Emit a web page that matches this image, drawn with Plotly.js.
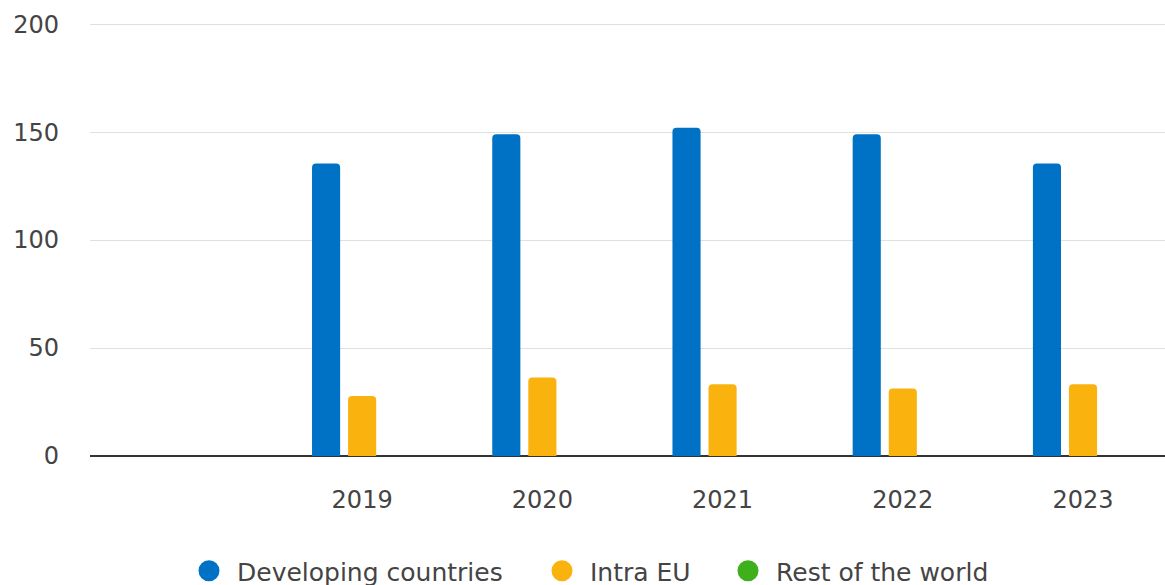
<!DOCTYPE html>
<html>
<head>
<meta charset="utf-8">
<script src="https://cdn.plot.ly/plotly-3.0.1.min.js"></script>
<style>html,body{margin:0;padding:0;background:#fff;}#chart{width:1165px;height:585px;}</style>
</head>
<body>
<div id="chart"></div>
<script>
// ---- data ----
const years = ["2019", "2020", "2021", "2022", "2023"];
const seriesNames = ["Developing countries", "Intra EU", "Rest of the world"];
const developing = [135.5, 149, 152, 149, 135.5];
const intraEU = [27.8, 36.3, 33.2, 31.3, 33.2];
const restOfWorld = [null, null, null, null, null];
const yTicks = [0, 50, 100, 150, 200];

// ---- styles ----
const colors = ["#0072C6", "#FAB20F", "#3DB01C"];
const fontFamily = "DejaVu Sans, Verdana, sans-serif";
const textColor = "#444444";
const W = 1165, H = 585;
const legendStarts = [181, 534, 720];

const seriesValues = [developing, intraEU, restOfWorld];
const traces = [];
seriesValues.forEach((vals, i) => {
  traces.push({
    type: "bar",
    name: seriesNames[i],
    x: years,
    y: vals,
    marker: {color: colors[i], cornerradius: 4},
    showlegend: false,
    hoverinfo: "x+y+name"
  });
});
// legend entries (circles)
seriesNames.forEach((n, i) => {
  traces.push({
    type: "scatter",
    mode: "markers",
    name: n,
    x: [null],
    y: [null],
    marker: {color: colors[i], size: 16, symbol: "circle", line: {color: colors[i], width: 5}},
    showlegend: true,
    legend: i === 0 ? "legend" : "legend" + (i + 1),
    hoverinfo: "skip"
  });
});

function legendCfg(i) {
  return {
    orientation: "h",
    xref: "container", yref: "container",
    x: legendStarts[i] / W, xanchor: "left",
    y: 1 - 571 / H, yanchor: "middle",
    itemwidth: 46,
    font: {family: fontFamily, size: 25, color: textColor},
    bgcolor: "rgba(0,0,0,0)",
    borderwidth: 0,
    itemclick: false, itemdoubleclick: false
  };
}

const layout = {
  width: W, height: H,
  margin: {l: 90, r: 0, t: 22, b: 129, pad: 0},
  paper_bgcolor: "#ffffff",
  plot_bgcolor: "#ffffff",
  font: {family: fontFamily, size: 24, color: textColor},
  barmode: "group",
  bargap: 0.4,
  bargroupgap: 0.22,
  xaxis: {
    type: "category",
    categoryorder: "array",
    categoryarray: years,
    range: [-1.51, 4.455],
    showgrid: false,
    zeroline: false,
    showline: false,
    ticks: "",
    ticklabelstandoff: 27,
    tickfont: {family: fontFamily, size: 24, color: textColor},
    fixedrange: true
  },
  yaxis: {
    range: [0, 201],
    tickvals: yTicks,
    ticktext: yTicks.map(String),
    showgrid: true,
    gridcolor: "#e0e0e0",
    gridwidth: 1,
    zeroline: true,
    zerolinecolor: "#333333",
    zerolinewidth: 1.5,
    showline: false,
    ticks: "",
    ticklabelstandoff: 30,
    tickfont: {family: fontFamily, size: 24, color: textColor},
    fixedrange: true
  },
  legend: legendCfg(0),
  legend2: legendCfg(1),
  legend3: legendCfg(2),
  showlegend: true
};

Plotly.newPlot("chart", traces, layout, {displayModeBar: false, staticPlot: false, responsive: false});
</script>
</body>
</html>
